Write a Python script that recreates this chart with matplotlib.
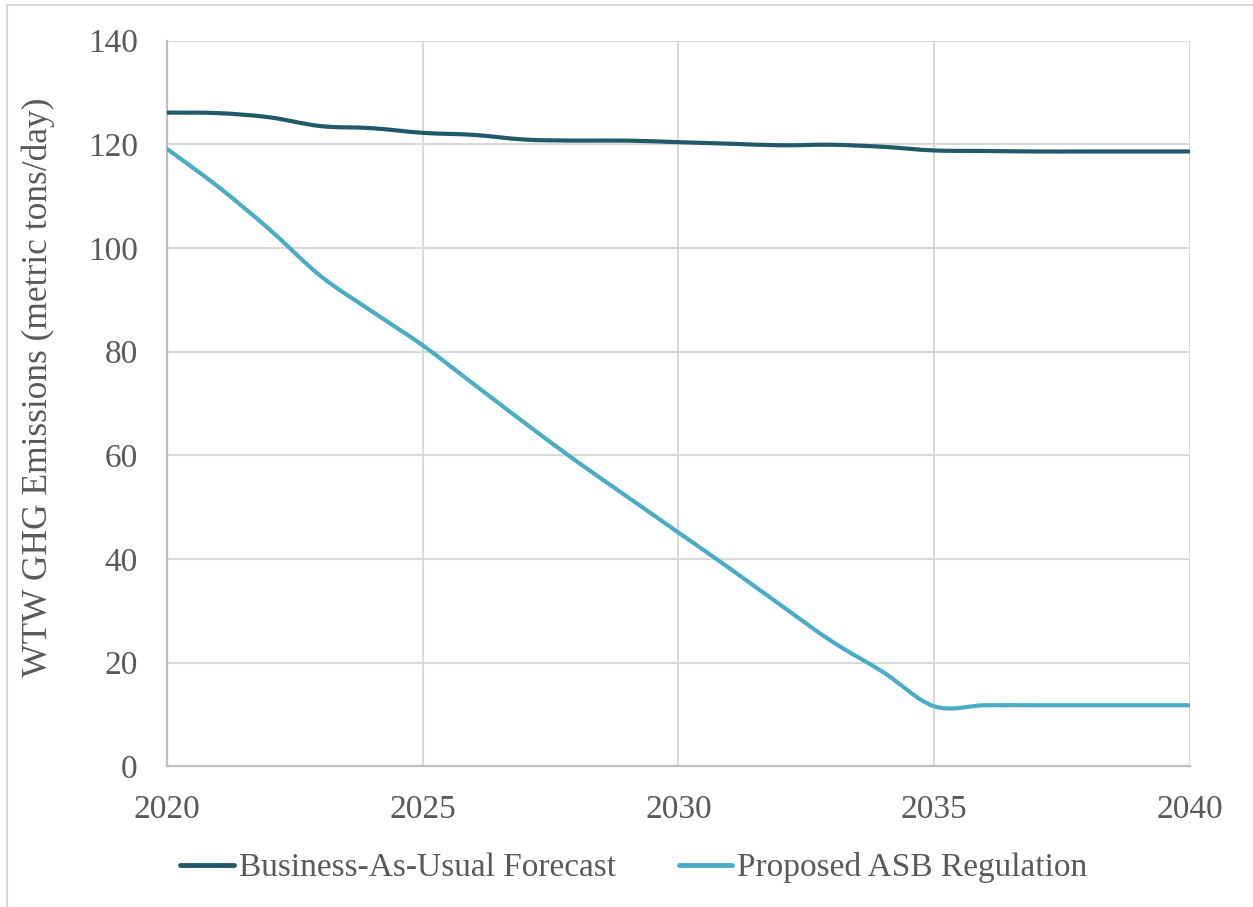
import matplotlib
matplotlib.use("Agg")
import matplotlib.pyplot as plt
import numpy as np
from matplotlib.path import Path
from matplotlib.patches import PathPatch, Rectangle
from matplotlib.lines import Line2D

plt.rcParams["font.family"] = ["Liberation Serif", "DejaVu Serif"]

years = list(range(2020, 2041))
bau_forecast = [126.1, 126.0, 125.2, 123.5, 123.1, 122.2, 121.8, 120.9, 120.7, 120.7,
                120.4, 120.1, 119.8, 119.9, 119.5, 118.8, 118.7, 118.6, 118.6, 118.6, 118.6]
asb_regulation = [119.1, 111.8, 103.6, 94.6, 87.8, 81.2, 73.7, 66.2, 58.9, 52.0,
                  45.1, 38.2, 31.1, 24.1, 18.2, 11.6, 11.8, 11.8, 11.8, 11.8, 11.8]
series_names = ["Business-As-Usual Forecast", "Proposed ASB Regulation"]
series_colors = ["#215968", "#4BACC6"]

TEXT = "#595959"
GRID = "#D9D9D9"
AXIS = "#BFBFBF"


def smooth_path(xs, ys):
    # bezier through each point, tangents from neighbours (spreadsheet-style smoothing)
    pts = np.column_stack([xs, ys]).astype(float)
    n = len(pts)
    verts = [pts[0]]
    codes = [Path.MOVETO]
    for i in range(n - 1):
        p0 = pts[max(i - 1, 0)]
        p1 = pts[i]
        p2 = pts[i + 1]
        p3 = pts[min(i + 2, n - 1)]
        c1 = p1 + (p2 - p0) / 6.0
        c2 = p2 - (p3 - p1) / 6.0
        verts += [c1, c2, p2]
        codes += [Path.CURVE4] * 3
    return Path(verts, codes)


fig = plt.figure(figsize=(12.53, 9.07), dpi=100)
ax = fig.add_axes([0.1333, 0.155, 0.8164, 0.8003])

for vals, col in zip([bau_forecast, asb_regulation], series_colors):
    patch = PathPatch(smooth_path(years, vals), fill=False, edgecolor=col,
                      lw=3.0, capstyle="round", joinstyle="round", zorder=3)
    ax.add_patch(patch)

ax.set_xlim(2020, 2040)
ax.set_ylim(0, 140)
ax.set_xticks(range(2020, 2041, 5))
ax.set_yticks(range(0, 141, 20))
ax.grid(True, color=GRID, lw=1.5, zorder=0)
ax.set_axisbelow(True)

for side in ["top", "right"]:
    ax.spines[side].set_visible(False)
for side in ["left", "bottom"]:
    ax.spines[side].set_color(AXIS)
    ax.spines[side].set_linewidth(1.6)

ax.tick_params(axis="both", length=0, labelsize=24, labelcolor=TEXT)
ax.tick_params(axis="x", pad=20)
ax.tick_params(axis="y", pad=21)

ax.set_ylabel("WTW GHG Emissions (metric tons/day)", fontsize=25.5, color=TEXT,
              va="center")
ax.yaxis.set_label_coords(-0.126, 0.522)

handles = [Line2D([], [], color=c, lw=3.5, solid_capstyle="round") for c in series_colors]
fig.legend(handles, series_names, loc="center", bbox_to_anchor=(0.506, 0.043),
           ncol=2, frameon=False, fontsize=24, labelcolor=TEXT,
           handlelength=1.6, handletextpad=0.15, columnspacing=1.9)

# light chart-area border (top and left edges)
fig.patches.append(Rectangle((0.0056, -0.2), 1.5, 1.1945, transform=fig.transFigure,
                             fill=False, edgecolor=GRID, lw=1.5, zorder=0))

fig.savefig("out.png", dpi=100)
